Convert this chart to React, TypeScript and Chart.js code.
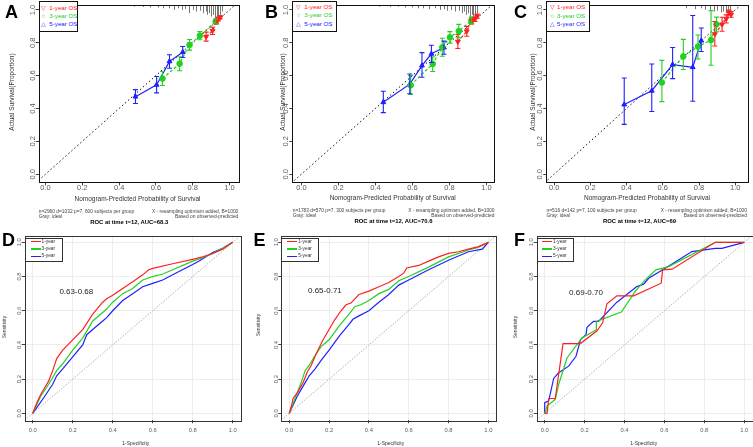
import React, { useEffect, useRef } from "react";
import { Chart, registerables } from "chart.js";

Chart.register(...registerables);

const FONT = "'Liberation Sans', Arial, Helvetica, sans-serif";
const RED = "#ff2020";
const GREEN = "#22d022";
const BLUE = "#2020ff";

const TICK_VALUES = [0, 0.2, 0.4, 0.6, 0.8, 1.0];
const TICK_LABELS = ["0.0", "0.2", "0.4", "0.6", "0.8", "1.0"];

const CAL_SERIES_NAMES = ["1-year OS", "3-year OS", "5-year OS"];
const CAL_SYMBOLS = ["▽", "○", "△"];
const ROC_SERIES_NAMES = ["1-year", "3-year", "5-year"];
const CAL_X_TITLE = "Nomogram-Predicted Probability of Survival";
const CAL_Y_TITLE = "Actual Survival(Proportion)";
const ROC_X_TITLE = "1-Specificity";
const ROC_Y_TITLE = "Sensitivity";
const CAL_INFO = [
  "n=2960 d=1032 p=7, 600 subjects per group",
  "n=1783 d=570 p=7, 300 subjects per group",
  "n=516 d=142 p=7, 100 subjects per group",
];
const CAL_NOTE_LEFT = "Gray: ideal";
const CAL_NOTE_RIGHT1 = "X - resampling optimism added, B=1000";
const CAL_NOTE_RIGHT2 = "Based on observed-predicted";
const ROC_TITLES = ["ROC at time t=12, AUC=68.3", "ROC at time t=12, AUC=70.6", "ROC at time t=12, AUC=69"];
const AUC_RANGES = ["0.63-0.68", "0.65-0.71", "0.69-0.70"];

// ---------------- Calibration A ----------------
const calA_1y_pred = [0.873, 0.908, 0.93, 0.94, 0.95];
const calA_1y_obs = [0.837, 0.873, 0.93, 0.945, 0.955];
const calA_1y_lo = [0.81, 0.85, 0.915, 0.933, 0.945];
const calA_1y_hi = [0.865, 0.895, 0.945, 0.957, 0.965];
const calA_3y_pred = [0.636, 0.729, 0.783, 0.839, 0.925];
const calA_3y_obs = [0.582, 0.673, 0.787, 0.843, 0.93];
const calA_3y_lo = [0.54, 0.63, 0.755, 0.818, 0.915];
const calA_3y_hi = [0.625, 0.715, 0.82, 0.868, 0.945];
const calA_5y_pred = [0.489, 0.604, 0.674, 0.746];
const calA_5y_obs = [0.472, 0.544, 0.687, 0.743];
const calA_5y_lo = [0.43, 0.495, 0.645, 0.71];
const calA_5y_hi = [0.515, 0.595, 0.727, 0.777];
const rugA_x = [0.48, 0.53, 0.57, 0.61, 0.64, 0.67, 0.7, 0.72, 0.74, 0.76, 0.78, 0.8, 0.82, 0.84, 0.855, 0.87, 0.88, 0.89, 0.9, 0.91, 0.92, 0.93, 0.94, 0.95, 0.96];
const rugA_len = [0.01, 0.012, 0.015, 0.015, 0.02, 0.02, 0.03, 0.02, 0.03, 0.025, 0.05, 0.03, 0.04, 0.035, 0.05, 0.04, 0.06, 0.05, 0.07, 0.06, 0.08, 0.07, 0.08, 0.085, 0.04];

// ---------------- Calibration B ----------------
const calB_1y_pred = [0.846, 0.894, 0.921, 0.939, 0.95];
const calB_1y_obs = [0.807, 0.87, 0.936, 0.944, 0.962];
const calB_1y_lo = [0.765, 0.84, 0.915, 0.93, 0.95];
const calB_1y_hi = [0.85, 0.9, 0.955, 0.958, 0.975];
const calB_3y_pred = [0.591, 0.71, 0.762, 0.803, 0.851, 0.919];
const calB_3y_obs = [0.542, 0.671, 0.773, 0.833, 0.871, 0.936];
const calB_3y_lo = [0.485, 0.625, 0.718, 0.798, 0.83, 0.915];
const calB_3y_hi = [0.6, 0.715, 0.828, 0.868, 0.912, 0.957];
const calB_5y_pred = [0.443, 0.586, 0.652, 0.703, 0.771];
const calB_5y_obs = [0.438, 0.548, 0.661, 0.733, 0.771];
const calB_5y_lo = [0.375, 0.49, 0.59, 0.68, 0.73];
const calB_5y_hi = [0.505, 0.61, 0.74, 0.785, 0.81];
const rugB_x = [0.42, 0.48, 0.52, 0.56, 0.6, 0.63, 0.66, 0.69, 0.72, 0.75, 0.77, 0.79, 0.81, 0.83, 0.85, 0.87, 0.88, 0.89, 0.9, 0.91, 0.92, 0.93, 0.94, 0.95];
const rugB_len = [0.01, 0.012, 0.01, 0.015, 0.015, 0.02, 0.02, 0.025, 0.02, 0.03, 0.025, 0.035, 0.03, 0.04, 0.035, 0.05, 0.04, 0.06, 0.05, 0.07, 0.06, 0.08, 0.07, 0.05];

// ---------------- Calibration C ----------------
const calC_1y_pred = [0.887, 0.927, 0.95, 0.964, 0.977];
const calC_1y_obs = [0.853, 0.912, 0.946, 0.986, 0.972];
const calC_1y_lo = [0.78, 0.87, 0.92, 0.97, 0.955];
const calC_1y_hi = [0.93, 0.955, 0.97, 1.0, 0.99];
const calC_3y_pred = [0.595, 0.713, 0.794, 0.866, 0.896];
const calC_3y_obs = [0.558, 0.717, 0.777, 0.817, 0.912];
const calC_3y_lo = [0.442, 0.637, 0.701, 0.663, 0.867];
const calC_3y_hi = [0.693, 0.821, 0.847, 0.996, 0.956];
const calC_5y_pred = [0.387, 0.539, 0.654, 0.765, 0.812];
const calC_5y_obs = [0.424, 0.508, 0.667, 0.651, 0.813];
const calC_5y_lo = [0.303, 0.382, 0.582, 0.444, 0.747];
const calC_5y_hi = [0.586, 0.671, 0.771, 0.966, 0.89];
const rugC_x = [0.73, 0.78, 0.81, 0.83, 0.86, 0.88, 0.9, 0.92, 0.93, 0.95, 0.96, 0.97];
const rugC_len = [0.02, 0.025, 0.02, 0.03, 0.03, 0.04, 0.035, 0.045, 0.04, 0.05, 0.04, 0.03];

// ---------------- ROC D ----------------
const rocD_1y_fpr = [0, 0.02, 0.04, 0.06, 0.08, 0.1, 0.12, 0.15, 0.2, 0.25, 0.3, 0.35, 0.37, 0.4, 0.45, 0.5, 0.55, 0.58, 0.6, 0.7, 0.8, 0.85, 0.9, 0.95, 1];
const rocD_1y_tpr = [0, 0.06, 0.11, 0.15, 0.19, 0.25, 0.32, 0.37, 0.43, 0.49, 0.58, 0.65, 0.67, 0.69, 0.73, 0.77, 0.81, 0.84, 0.848, 0.875, 0.9, 0.915, 0.935, 0.96, 1];
const rocD_3y_fpr = [0, 0.02, 0.04, 0.08, 0.1, 0.12, 0.15, 0.2, 0.25, 0.3, 0.35, 0.37, 0.4, 0.45, 0.5, 0.55, 0.6, 0.65, 0.7, 0.8, 0.85, 0.9, 0.95, 1];
const rocD_3y_tpr = [0, 0.05, 0.1, 0.17, 0.21, 0.25, 0.29, 0.37, 0.44, 0.54, 0.59, 0.61, 0.65, 0.7, 0.73, 0.78, 0.8, 0.815, 0.84, 0.89, 0.91, 0.935, 0.965, 1];
const rocD_5y_fpr = [0, 0.03, 0.06, 0.1, 0.12, 0.15, 0.2, 0.25, 0.27, 0.3, 0.35, 0.37, 0.4, 0.45, 0.5, 0.55, 0.6, 0.65, 0.7, 0.8, 0.83, 0.9, 0.95, 1];
const rocD_5y_tpr = [0, 0.05, 0.1, 0.17, 0.22, 0.26, 0.33, 0.4, 0.46, 0.49, 0.54, 0.56, 0.6, 0.66, 0.7, 0.74, 0.76, 0.78, 0.81, 0.87, 0.89, 0.94, 0.965, 1];

// ---------------- ROC E ----------------
const rocE_1y_fpr = [0, 0.01, 0.02, 0.04, 0.07, 0.09, 0.11, 0.14, 0.17, 0.2, 0.23, 0.26, 0.285, 0.31, 0.35, 0.4, 0.45, 0.5, 0.55, 0.575, 0.59, 0.65, 0.7, 0.75, 0.8, 0.85, 0.9, 0.95, 1];
const rocE_1y_tpr = [0, 0.04, 0.09, 0.12, 0.18, 0.24, 0.28, 0.36, 0.43, 0.49, 0.55, 0.6, 0.635, 0.645, 0.695, 0.715, 0.74, 0.765, 0.8, 0.82, 0.85, 0.865, 0.89, 0.915, 0.935, 0.945, 0.96, 0.975, 1];
const rocE_3y_fpr = [0, 0.02, 0.04, 0.06, 0.08, 0.1, 0.13, 0.16, 0.2, 0.25, 0.3, 0.33, 0.36, 0.4, 0.45, 0.5, 0.55, 0.6, 0.7, 0.8, 0.9, 0.95, 1];
const rocE_3y_tpr = [0, 0.06, 0.12, 0.18, 0.25, 0.28, 0.34, 0.39, 0.43, 0.51, 0.58, 0.625, 0.635, 0.66, 0.7, 0.725, 0.775, 0.8, 0.855, 0.915, 0.955, 0.97, 1];
const rocE_5y_fpr = [0, 0.02, 0.04, 0.06, 0.08, 0.1, 0.13, 0.16, 0.2, 0.25, 0.3, 0.32, 0.35, 0.4, 0.45, 0.5, 0.55, 0.6, 0.7, 0.8, 0.9, 0.97, 1];
const rocE_5y_tpr = [0, 0.05, 0.1, 0.14, 0.18, 0.22, 0.26, 0.31, 0.37, 0.45, 0.52, 0.55, 0.57, 0.6, 0.65, 0.695, 0.75, 0.78, 0.84, 0.895, 0.945, 0.96, 1];

// ---------------- ROC F ----------------
const rocF_1y_fpr = [0, 0.012, 0.02, 0.053, 0.092, 0.179, 0.262, 0.29, 0.312, 0.362, 0.446, 0.584, 0.591, 0.638, 0.855, 1];
const rocF_1y_tpr = [0, 0, 0.087, 0.087, 0.408, 0.408, 0.483, 0.528, 0.641, 0.687, 0.687, 0.761, 0.839, 0.843, 1, 1];
const rocF_3y_fpr = [0, 0.012, 0.053, 0.07, 0.112, 0.187, 0.259, 0.259, 0.384, 0.454, 0.504, 0.558, 0.621, 0.855, 1];
const rocF_3y_tpr = [0, 0.043, 0.082, 0.169, 0.324, 0.441, 0.489, 0.538, 0.592, 0.713, 0.781, 0.839, 0.858, 1, 1];
const rocF_5y_fpr = [0, 0, 0.02, 0.045, 0.07, 0.12, 0.157, 0.18, 0.207, 0.212, 0.245, 0.27, 0.362, 0.462, 0.496, 0.521, 0.604, 0.738, 0.855, 0.888, 1];
const rocF_5y_tpr = [0, 0.062, 0.072, 0.204, 0.237, 0.276, 0.334, 0.431, 0.46, 0.503, 0.538, 0.538, 0.65, 0.741, 0.755, 0.79, 0.849, 0.946, 0.965, 0.965, 1];

// ---------------- plugins ----------------
const calExtras = {
  id: "calExtras",
  beforeDatasetsDraw(chart: any, _a: any, opts: any) {
    const { ctx, chartArea: a, scales } = chart;
    const x = scales.x, y = scales.y;
    ctx.save();
    ctx.strokeStyle = "#555";
    ctx.lineWidth = 0.8;
    (opts.rugX || []).forEach((v: number, i: number) => {
      const px = Math.round(x.getPixelForValue(v)) + 0.5;
      const py = y.getPixelForValue(y.max - opts.rugLen[i]);
      ctx.beginPath();
      ctx.moveTo(px, a.top);
      ctx.lineTo(px, py);
      ctx.stroke();
    });
    ctx.restore();
  },
  afterDatasetsDraw(chart: any) {
    const { ctx, scales } = chart;
    const x = scales.x, y = scales.y;
    ctx.save();
    chart.data.datasets.forEach((ds: any) => {
      if (!ds.errLo) return;
      ctx.strokeStyle = ds.borderColor;
      ctx.lineWidth = 1.1;
      ds.data.forEach((pt: any, i: number) => {
        const px = x.getPixelForValue(pt.x);
        const lo = y.getPixelForValue(ds.errLo[i]);
        const hi = y.getPixelForValue(ds.errHi[i]);
        ctx.beginPath();
        ctx.moveTo(px, lo);
        ctx.lineTo(px, hi);
        ctx.moveTo(px - 2.5, lo);
        ctx.lineTo(px + 2.5, lo);
        ctx.moveTo(px - 2.5, hi);
        ctx.lineTo(px + 2.5, hi);
        ctx.stroke();
      });
    });
    ctx.restore();
  },
  afterDraw(chart: any) {
    const { ctx, chartArea: a } = chart;
    ctx.save();
    ctx.strokeStyle = "#111";
    ctx.lineWidth = 1;
    ctx.strokeRect(Math.round(a.left) + 0.5, Math.round(a.top) + 0.5, Math.round(a.right - a.left), Math.round(a.bottom - a.top));
    ctx.restore();
  },
};

const rocExtras = {
  id: "rocExtras",
  afterDatasetsDraw(chart: any, _a: any, opts: any) {
    const { ctx, scales } = chart;
    ctx.save();
    ctx.font = `8px ${FONT}`;
    ctx.fillStyle = "#222";
    ctx.textAlign = "center";
    ctx.textBaseline = "middle";
    ctx.fillText(opts.label, scales.x.getPixelForValue(opts.lx), scales.y.getPixelForValue(opts.ly));
    ctx.restore();
  },
  afterDraw(chart: any) {
    const { ctx, chartArea: a } = chart;
    ctx.save();
    ctx.strokeStyle = "#333";
    ctx.lineWidth = 1;
    ctx.strokeRect(Math.round(a.left) + 0.5, Math.round(a.top) + 0.5, Math.round(a.right - a.left), Math.round(a.bottom - a.top));
    ctx.restore();
  },
};

// ---------------- builders ----------------
function axis(kind: "x" | "y", min: number, max: number, o: any) {
  return {
    type: "linear",
    min,
    max,
    afterBuildTicks: (s: any) => {
      s.ticks = TICK_VALUES.map((v) => ({ value: v }));
    },
    afterFit: (s: any) => {
      if (kind === "x") s.height = o.size;
      else s.width = o.size;
      s.paddingLeft = 0;
      s.paddingRight = 0;
      s.paddingTop = 0;
      s.paddingBottom = 0;
    },
    ticks: {
      callback: (_v: any, i: number) => TICK_LABELS[i],
      font: { family: FONT, size: o.font },
      color: "#5a5a5a",
      padding: o.pad,
      autoSkip: false,
      minRotation: kind === "y" ? 90 : 0,
      maxRotation: kind === "y" ? 90 : 0,
      crossAlign: kind === "y" ? "center" : "near",
    },
    grid: {
      display: true,
      drawOnChartArea: o.grid,
      color: "#e8e8e8",
      lineWidth: 0.8,
      drawTicks: true,
      tickLength: 3,
      tickColor: "#444",
      tickWidth: 1,
    },
    border: { display: false },
  };
}

function calSeries(pred: number[], obs: number[], lo: number[], hi: number[], color: string, style: string, rot: number, dash: number[]) {
  return {
    data: pred.map((p, i) => ({ x: p, y: obs[i] })),
    showLine: true,
    borderColor: color,
    backgroundColor: color,
    borderWidth: 1.2,
    borderDash: dash,
    pointStyle: style,
    pointRotation: rot,
    pointRadius: 2.8,
    pointBorderWidth: 1,
    errLo: lo,
    errHi: hi,
  };
}

function diag(color: string, width: number, dash: number[]) {
  return {
    data: [{ x: -0.2, y: -0.2 }, { x: 1.2, y: 1.2 }],
    showLine: true,
    borderColor: color,
    borderWidth: width,
    borderDash: dash,
    pointRadius: 0,
  };
}

function rocSeries(fpr: number[], tpr: number[], color: string) {
  return {
    data: fpr.map((f, i) => ({ x: f, y: tpr[i] })),
    showLine: true,
    borderColor: color,
    borderWidth: 1.2,
    pointRadius: 0,
  };
}

function calConfig(p: any) {
  return {
    type: "scatter",
    data: {
      datasets: [
        calSeries(p.s1[0], p.s1[1], p.s1[2], p.s1[3], RED, "triangle", 180, [3, 2]),
        calSeries(p.s3[0], p.s3[1], p.s3[2], p.s3[3], GREEN, "circle", 0, [3, 2]),
        calSeries(p.s5[0], p.s5[1], p.s5[2], p.s5[3], BLUE, "triangle", 0, []),
        diag("#111", 1, [1.5, 2.5]),
      ],
    },
    options: {
      animation: false,
      responsive: false,
      events: [],
      layout: { padding: p.pad },
      plugins: {
        legend: { display: false },
        tooltip: { enabled: false },
        calExtras: { rugX: p.rugX, rugLen: p.rugLen },
      },
      scales: {
        x: axis("x", p.xMin, p.xMax, { size: 12, font: 7.5, pad: -1.5, grid: false }),
        y: axis("y", -0.05, 1.03, { size: 24, font: 7.5, pad: -2.2, grid: false }),
      },
    },
    plugins: [calExtras],
  };
}

function rocConfig(p: any) {
  return {
    type: "scatter",
    data: {
      datasets: [
        rocSeries(p.r1[0], p.r1[1], RED),
        rocSeries(p.r3[0], p.r3[1], GREEN),
        rocSeries(p.r5[0], p.r5[1], BLUE),
        diag("#9a9a9a", 0.8, [1.5, 1.5]),
      ],
    },
    options: {
      animation: false,
      responsive: false,
      events: [],
      layout: { padding: p.pad },
      plugins: {
        legend: { display: false },
        tooltip: { enabled: false },
        rocExtras: { label: p.label, lx: p.lx, ly: p.ly },
      },
      scales: {
        x: axis("x", -0.04, 1.04, { size: 14, font: 5.8, pad: 3.6, grid: true }),
        y: axis("y", -0.04, 1.04, { size: 14, font: 5.8, pad: -2, grid: true }),
      },
    },
    plugins: [rocExtras],
  };
}

function ChartBox({ left, top, width, height, make }: any) {
  const ref = useRef<HTMLCanvasElement>(null);
  useEffect(() => {
    const chart = new Chart(ref.current as HTMLCanvasElement, make() as any);
    return () => chart.destroy();
  }, []);
  return <canvas ref={ref} width={width} height={height} style={{ position: "absolute", left, top, width, height }} />;
}

function Txt({ x, y, size, color = "#000", bold = false, align = "left", rot = false, children }: any) {
  const tx = align === "left" ? "0" : align === "center" ? "-50%" : "-100%";
  return (
    <div
      style={{
        position: "absolute",
        left: x,
        top: y,
        fontSize: size,
        lineHeight: 1,
        color,
        fontWeight: bold ? 700 : 400,
        whiteSpace: "nowrap",
        fontFamily: FONT,
        transform: rot ? "translate(-50%,-50%) rotate(-90deg)" : `translate(${tx},-50%)`,
      }}
    >
      {children}
    </div>
  );
}

function CalLegend({ left, w, symX, textX, rows }: any) {
  const colors = [RED, GREEN, BLUE];
  return (
    <>
      <div style={{ position: "absolute", left, top: 0.7, width: w, height: 31, border: "1px solid #111", boxSizing: "border-box", background: "#fff" }} />
      {CAL_SERIES_NAMES.map((n, i) => (
        <React.Fragment key={n}>
          <Txt x={symX} y={rows[i]} size={6.2} color={colors[i]} align="center">{CAL_SYMBOLS[i]}</Txt>
          <Txt x={textX} y={rows[i]} size={6.2} color={colors[i]}>{n}</Txt>
        </React.Fragment>
      ))}
    </>
  );
}

function RocLegend({ left, w, lineX, textX }: any) {
  const colors = [RED, GREEN, BLUE];
  const rows = [241.7, 249, 256.3];
  return (
    <>
      <div style={{ position: "absolute", left, top: 237.7, width: w, height: 24.6, border: "1px solid #333", boxSizing: "border-box", background: "#fff" }} />
      {ROC_SERIES_NAMES.map((n, i) => (
        <React.Fragment key={n}>
          <div style={{ position: "absolute", left: lineX, top: rows[i] - 0.6, width: 10, height: 1.2, background: colors[i] }} />
          <Txt x={textX} y={rows[i]} size={4.8} color="#333">{n}</Txt>
        </React.Fragment>
      ))}
    </>
  );
}

function CalFooter({ left, right, y1, y2, info, title, tx, ty }: any) {
  return (
    <>
      <Txt x={left} y={y1} size={4.85} color="#444">{info}</Txt>
      <Txt x={left} y={y2} size={4.85} color="#444">{CAL_NOTE_LEFT}</Txt>
      <Txt x={right} y={y1} size={4.85} color="#444" align="right">{CAL_NOTE_RIGHT1}</Txt>
      <Txt x={right} y={y2} size={4.85} color="#444" align="right">{CAL_NOTE_RIGHT2}</Txt>
      <Txt x={tx} y={ty} size={5.9} bold align="center">{title}</Txt>
    </>
  );
}

export default function App() {
  useEffect(() => {
    document.body.style.margin = "0";
  }, []);
  return (
    <div style={{ position: "absolute", left: 0, top: 0, width: 753, height: 447, background: "#fff", overflow: "hidden", fontFamily: FONT }}>
      <ChartBox left={0} top={0} width={251} height={200} make={() => calConfig({
        s1: [calA_1y_pred, calA_1y_obs, calA_1y_lo, calA_1y_hi],
        s3: [calA_3y_pred, calA_3y_obs, calA_3y_lo, calA_3y_hi],
        s5: [calA_5y_pred, calA_5y_obs, calA_5y_lo, calA_5y_hi],
        rugX: rugA_x, rugLen: rugA_len, xMin: -0.037, xMax: 1.048,
        pad: { left: 14.7, right: 12.7, top: 1, bottom: 5.6 },
      })} />
      <ChartBox left={251} top={0} width={251} height={200} make={() => calConfig({
        s1: [calB_1y_pred, calB_1y_obs, calB_1y_lo, calB_1y_hi],
        s3: [calB_3y_pred, calB_3y_obs, calB_3y_lo, calB_3y_hi],
        s5: [calB_5y_pred, calB_5y_obs, calB_5y_lo, calB_5y_hi],
        rugX: rugB_x, rugLen: rugB_len, xMin: -0.049, xMax: 1.043,
        pad: { left: 17.3, right: 7.7, top: 1, bottom: 5.6 },
      })} />
      <ChartBox left={502} top={0} width={251} height={200} make={() => calConfig({
        s1: [calC_1y_pred, calC_1y_obs, calC_1y_lo, calC_1y_hi],
        s3: [calC_3y_pred, calC_3y_obs, calC_3y_lo, calC_3y_hi],
        s5: [calC_5y_pred, calC_5y_obs, calC_5y_lo, calC_5y_hi],
        rugX: rugC_x, rugLen: rugC_len, xMin: -0.043, xMax: 1.07,
        pad: { left: 20.3, right: 0.4, top: 1, bottom: 5.6 },
      })} />

      <ChartBox left={0} top={226} width={251} height={221} make={() => rocConfig({
        r1: [rocD_1y_fpr, rocD_1y_tpr], r3: [rocD_3y_fpr, rocD_3y_tpr], r5: [rocD_5y_fpr, rocD_5y_tpr],
        label: AUC_RANGES[0], lx: 0.218, ly: 0.711,
        pad: { left: 10.7, right: 10.3, top: 9.5, bottom: 12.8 },
      })} />
      <ChartBox left={251} top={226} width={251} height={221} make={() => rocConfig({
        r1: [rocE_1y_fpr, rocE_1y_tpr], r3: [rocE_3y_fpr, rocE_3y_tpr], r5: [rocE_5y_fpr, rocE_5y_tpr],
        label: AUC_RANGES[1], lx: 0.179, ly: 0.715,
        pad: { left: 16.3, right: 5.7, top: 9.5, bottom: 12.8 },
      })} />
      <ChartBox left={502} top={226} width={251} height={221} make={() => rocConfig({
        r1: [rocF_1y_fpr, rocF_1y_tpr], r3: [rocF_3y_fpr, rocF_3y_tpr], r5: [rocF_5y_fpr, rocF_5y_tpr],
        label: AUC_RANGES[2], lx: 0.207, ly: 0.705,
        pad: { left: 20.7, right: 0.8, top: 9.5, bottom: 12.8 },
      })} />

      {/* calibration legends */}
      <CalLegend left={38.7} w={39.6} symX={43.3} textX={49.3} rows={[7.7, 16, 24.3]} />
      <CalLegend left={292.3} w={44.7} symX={298.7} textX={304.3} rows={[6.7, 15.3, 24]} />
      <CalLegend left={546.3} w={44} symX={552} textX={557} rows={[7.3, 15.7, 24]} />

      {/* calibration axis titles */}
      <Txt x={137.5} y={199} size={6.5} color="#333" align="center">{CAL_X_TITLE}</Txt>
      <Txt x={392.7} y={197.7} size={6.5} color="#333" align="center">{CAL_X_TITLE}</Txt>
      <Txt x={647} y={197.7} size={6.5} color="#333" align="center">{CAL_X_TITLE}</Txt>
      <Txt x={12} y={92} size={6.5} color="#333" rot>{CAL_Y_TITLE}</Txt>
      <Txt x={283} y={92} size={6.5} color="#333" rot>{CAL_Y_TITLE}</Txt>
      <Txt x={533} y={92} size={6.5} color="#333" rot>{CAL_Y_TITLE}</Txt>

      {/* footers + ROC titles */}
      <CalFooter left={38.7} right={238.3} y1={211.7} y2={217} info={CAL_INFO[0]} title={ROC_TITLES[0]} tx={129.2} ty={223.3} />
      <CalFooter left={292.7} right={494.5} y1={210.7} y2={216} info={CAL_INFO[1]} title={ROC_TITLES[1]} tx={393.5} ty={222.3} />
      <CalFooter left={546.5} right={747} y1={210.7} y2={216} info={CAL_INFO[2]} title={ROC_TITLES[2]} tx={639.5} ty={222} />

      {/* ROC legends */}
      <RocLegend left={24.7} w={38.3} lineX={30.7} textX={41.5} />
      <RocLegend left={281.3} w={37.4} lineX={287} textX={298.3} />
      <RocLegend left={536.7} w={37} lineX={542} textX={553} />

      {/* ROC axis titles */}
      <Txt x={135.8} y={443.3} size={5} color="#333" align="center">{ROC_X_TITLE}</Txt>
      <Txt x={390.7} y={443.3} size={5} color="#333" align="center">{ROC_X_TITLE}</Txt>
      <Txt x={643.7} y={443.3} size={5} color="#333" align="center">{ROC_X_TITLE}</Txt>
      <Txt x={3.5} y={327.3} size={5} color="#333" rot>{ROC_Y_TITLE}</Txt>
      <Txt x={257.7} y={325} size={5} color="#333" rot>{ROC_Y_TITLE}</Txt>
      <Txt x={514.7} y={326.7} size={5} color="#333" rot>{ROC_Y_TITLE}</Txt>

      {/* panel letters */}
      <Txt x={5} y={11.5} size={18} bold>A</Txt>
      <Txt x={265} y={11.5} size={18} bold>B</Txt>
      <Txt x={514} y={11.5} size={18} bold>C</Txt>
      <Txt x={2} y={240} size={18} bold>D</Txt>
      <Txt x={253.5} y={240} size={18} bold>E</Txt>
      <Txt x={514} y={240} size={18} bold>F</Txt>
    </div>
  );
}
